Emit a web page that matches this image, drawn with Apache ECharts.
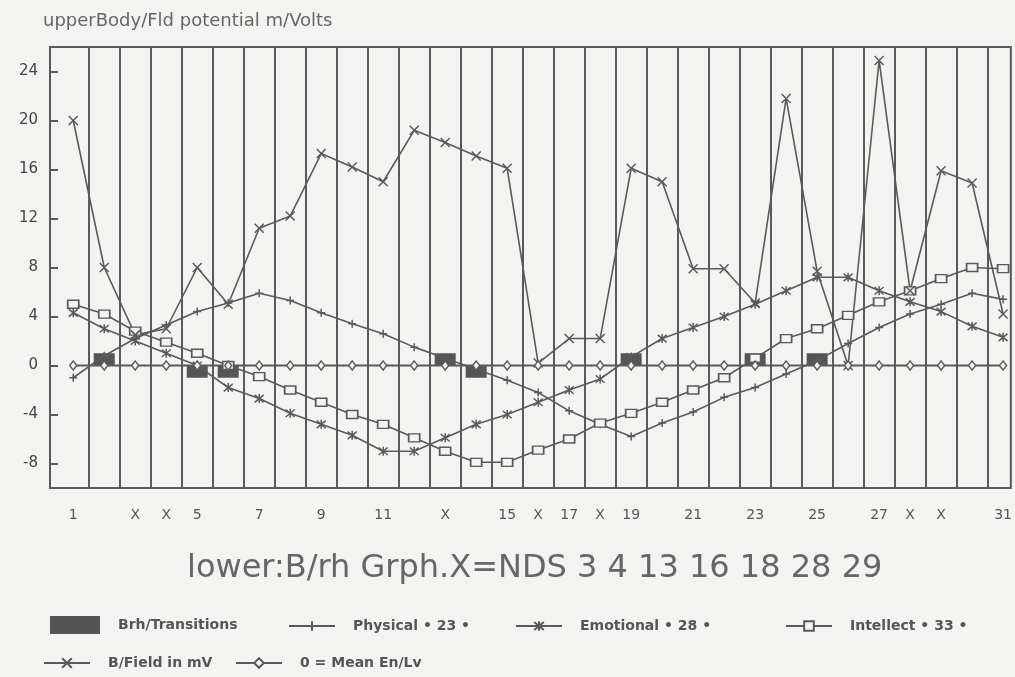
<!DOCTYPE html>
<html>
<head>
<meta charset="utf-8">
<script src="https://cdn.jsdelivr.net/npm/echarts@6/dist/echarts.min.js"></script>
<style>
	html, body {margin: 0; padding: 0; background: #f3f3f1;}
	#chart {width: 1015px; height: 677px;}
</style>
</head>
<body>
<div id="chart"></div>
<script>
let days = [1, 2, 3, 4, 5, 6, 7, 8, 9, 10, 11, 12, 13, 14, 15, 16, 17, 18, 19, 20, 21, 22, 23, 24, 25, 26, 27, 28, 29, 30, 31];
let ndsDays = [3, 4, 13, 16, 18, 28, 29];
let labelDays = [1, 3, 4, 5, 7, 9, 11, 13, 15, 16, 17, 18, 19, 21, 23, 25, 27, 28, 29, 31];
let yTicks = [-8, -4, 0, 4, 8, 12, 16, 20, 24];

let physical = [-1.0, 0.8, 2.2, 3.3, 4.4, 5.1, 5.9, 5.3, 4.3, 3.4, 2.6, 1.5, 0.6, -0.3, -1.2, -2.2, -3.7, -4.8, -5.8, -4.7, -3.8, -2.6, -1.8, -0.7, 0.4, 1.8, 3.1, 4.2, 5.0, 5.9, 5.4];
let emotional = [4.3, 3.0, 2.0, 1.0, 0.0, -1.8, -2.7, -3.9, -4.8, -5.7, -7.0, -7.0, -5.9, -4.8, -4.0, -3.0, -2.0, -1.1, 0.7, 2.2, 3.1, 4.0, 5.0, 6.1, 7.2, 7.2, 6.1, 5.2, 4.4, 3.2, 2.3];
let intellect = [5.0, 4.2, 2.8, 1.9, 1.0, 0.0, -0.9, -2.0, -3.0, -4.0, -4.8, -5.9, -7.0, -7.9, -7.9, -6.9, -6.0, -4.7, -3.9, -3.0, -2.0, -1.0, 0.6, 2.2, 3.0, 4.1, 5.2, 6.1, 7.1, 8.0, 7.9];
let bField = [20, 8, 2.5, 3, 8, 5, 11.2, 12.2, 17.3, 16.2, 15, 19.2, 18.2, 17.1, 16.1, 0.2, 2.2, 2.2, 16.1, 15, 7.9, 7.9, 5.1, 21.8, 7.7, 0, 24.9, 6.1, 15.9, 14.9, 4.2];
let meanLine = [0, 0, 0, 0, 0, 0, 0, 0, 0, 0, 0, 0, 0, 0, 0, 0, 0, 0, 0, 0, 0, 0, 0, 0, 0, 0, 0, 0, 0, 0, 0];
let transitionDays = [2, 5, 6, 13, 14, 19, 23, 25];
let transitionValues = [1, -1, -1, 1, -1, 1, 1, 1];

let names = {
	brh: 'Brh/Transitions',
	phy: 'Physical \u2022 23 \u2022',
	emo: 'Emotional \u2022 28 \u2022',
	int: 'Intellect \u2022 33 \u2022',
	fld: 'B/Field in mV',
	mean: '0 = Mean En/Lv',
};

let ink = '#5a5a5a';
let paper = '#f3f3f1';
let font = 'DejaVu Sans';
let plusPath = 'path://M5,0 L5,10 M0,5 L10,5';
let crossPath = 'path://M0,0 L10,10 M10,0 L0,10';
let starPath = 'path://M0,0 L10,10 M10,0 L0,10 M5,-1 L5,11';

let pairs = (values) => days.map((d, i) => [d, values[i]]);

let lineSeries = (name, values, symbol, symbolSize) => ({
	name,
	type: 'line',
	data: pairs(values),
	symbol,
	symbolSize,
	showAllSymbol: true,
	lineStyle: {color: ink, width: 1.6},
	itemStyle: {
		color: paper,
		borderColor: ink,
		borderWidth: 1.5,
	},
	z: 3,
});

let legendAt = (name, left, top) => ({
	data: [name],
	left,
	top,
	itemWidth: 46,
	itemHeight: 12,
	textStyle: {color: '#555', fontFamily: font, fontSize: 14, fontWeight: 'bold', padding: [0, 0, 0, 13]},
});

let chart = echarts.init(document.getElementById('chart'));
chart.setOption({
	animation: false,
	backgroundColor: paper,
	title: [
		{
			text: 'upperBody/Fld potential m/Volts',
			left: 38,
			top: 7,
			textStyle: {color: '#666', fontFamily: font, fontSize: 18, fontWeight: 'normal'},
		},
		{
			text: 'lower:B/rh Grph.X=NDS 3 4 13 16 18 28 29',
			left: 182,
			top: 548,
			textStyle: {color: '#666', fontFamily: font, fontSize: 32, fontWeight: 'normal'},
		},
	],
	legend: [
		Object.assign(legendAt(names.brh, 45, 611), {
			itemHeight: 18,
			itemWidth: 50,
			data: [{name: names.brh, icon: 'rect'}],
		}),
		legendAt(names.phy, 283, 614),
		legendAt(names.emo, 510, 614),
		legendAt(names.int, 780, 614),
		legendAt(names.fld, 38, 651),
		legendAt(names.mean, 230, 651),
	],
	grid: {
		left: 50,
		right: 2,
		top: 47,
		bottom: 189,
		show: true,
		borderColor: ink,
		borderWidth: 2,
		backgroundColor: 'transparent',
	},
	xAxis: {
		type: 'value',
		min: 0.25,
		max: 31.25,
		axisLine: {show: false},
		axisTick: {show: false, customValues: days.slice(0, -1).map((d) => d + 0.5)},
		splitLine: {show: true, lineStyle: {color: ink, width: 2}},
		axisLabel: {
			customValues: labelDays,
			margin: 20,
			color: '#555',
			fontFamily: font,
			fontSize: 14,
			formatter: (v) => (ndsDays.includes(v) ? 'X' : String(v)),
		},
	},
	yAxis: {
		type: 'value',
		min: -10,
		max: 26,
		axisLine: {show: true, lineStyle: {color: ink, width: 2}},
		axisTick: {show: true, inside: true, length: 8, customValues: yTicks, lineStyle: {color: ink, width: 2}},
		splitLine: {show: false},
		axisLabel: {customValues: yTicks, margin: 12, color: '#444', fontFamily: font, fontSize: 15},
	},
	series: [
		{
			name: names.brh,
			type: 'bar',
			data: transitionDays.map((d, i) => [d, transitionValues[i]]),
			barWidth: 21,
			itemStyle: {color: '#555'},
			z: 2,
		},
		lineSeries(names.phy, physical, plusPath, [8, 8]),
		lineSeries(names.emo, emotional, starPath, [9, 9]),
		lineSeries(names.int, intellect, 'rect', [11, 8]),
		lineSeries(names.fld, bField, crossPath, [9, 9]),
		Object.assign(lineSeries(names.mean, meanLine, 'diamond', [7, 9]), {
			lineStyle: {color: ink, width: 2},
		}),
	],
});
</script>
</body>
</html>
